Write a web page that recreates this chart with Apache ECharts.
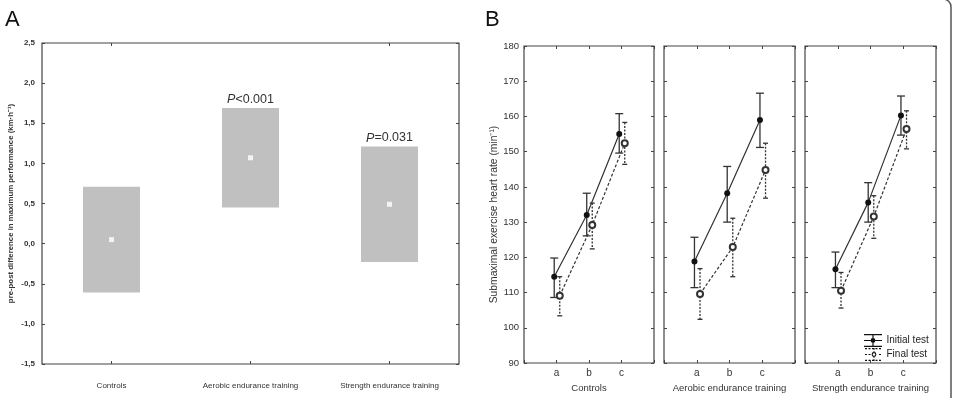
<!DOCTYPE html>
<html>
<head>
<meta charset="utf-8">
<script src="https://cdn.jsdelivr.net/npm/echarts@6/dist/echarts.min.js"></script>
<style>html,body{margin:0;background:#fff}#chart{width:953px;height:398px}</style>
</head>
<body>
<div id="chart"></div>
<script>
// panel A: pre-post difference, mean with 95% CI box
const groupsA = ['Controls', 'Aerobic endurance training', 'Strength endurance training'];
const meanA = [0.05, 1.07, 0.49];
const lowA = [-0.61, 0.45, -0.23];
const highA = [0.71, 1.69, 1.21];
const pLabels = ['', 'P<0.001', 'P=0.031'];

// panel B: heart rate at stages a, b, c
const stages = ['a', 'b', 'c'];
const groupsB = ['Controls', 'Aerobic endurance training', 'Strength endurance training'];
const initMean = [[114.5, 132.0, 155.0], [118.8, 138.2, 159.0], [116.6, 135.6, 160.3]];
const initLow = [[108.6, 126.1, 149.6], [111.4, 130.0, 151.2], [111.4, 130.0, 154.7]];
const initHigh = [[119.8, 138.2, 160.8], [125.7, 145.8, 166.6], [121.5, 141.2, 165.8]];
const finalMean = [[109.1, 129.2, 152.4], [109.6, 122.9, 144.8], [110.5, 131.6, 156.4]];
const finalLow = [[103.4, 122.4, 146.4], [102.4, 114.5, 136.8], [105.6, 125.4, 150.8]];
const finalHigh = [[114.5, 135.4, 158.3], [116.8, 131.1, 152.4], [115.7, 137.5, 161.6]];

const FONT = '"Liberation Sans", Arial, sans-serif';
const INK = '#333';
const initOff = -0.07, finalOff = 0.1;

const chart = echarts.init(document.getElementById('chart'));

const grids = [
  { left: 42, top: 43, width: 417, height: 321 },
  { left: 524, top: 46, width: 130, height: 317 },
  { left: 664, top: 46, width: 131, height: 317 },
  { left: 805, top: 46, width: 131, height: 317 }
].map(g => Object.assign(g, { show: true, borderColor: '#444', borderWidth: 1.2, backgroundColor: '#fff' }));

const tick = { show: true, inside: true, length: 3, lineStyle: { color: '#444' } };
const noLine = { show: false, onZero: false };
const xAxes = [], yAxes = [];

// panel A axes
xAxes.push({
  gridIndex: 0, type: 'category', data: groupsA, position: 'bottom',
  axisLine: noLine, axisTick: Object.assign({ alignWithLabel: true }, tick),
  axisLabel: { margin: 18, fontSize: 8, color: INK, fontFamily: FONT }
});
xAxes.push({
  gridIndex: 0, type: 'category', data: groupsA, position: 'top',
  axisLine: noLine, axisTick: Object.assign({ alignWithLabel: true }, tick), axisLabel: { show: false }
});
yAxes.push({
  gridIndex: 0, type: 'value', min: -1.5, max: 2.5, interval: 0.5, position: 'left',
  name: 'pre-post difference in maximum performance (km·h⁻¹)', nameLocation: 'middle', nameGap: 27,
  nameTextStyle: { fontSize: 7.8, fontWeight: 'bold', color: INK, fontFamily: FONT },
  axisLine: noLine, axisTick: tick, splitLine: { show: false },
  axisLabel: { margin: 7, fontSize: 8, fontWeight: 'bold', color: INK, fontFamily: FONT,
    formatter: v => v.toFixed(1).replace('.', ',') }
});
yAxes.push({
  gridIndex: 0, type: 'value', min: -1.5, max: 2.5, interval: 0.5, position: 'right',
  axisLine: noLine, axisTick: tick, splitLine: { show: false }, axisLabel: { show: false }
});

// panel B axes
groupsB.forEach((g, k) => {
  const gi = k + 1;
  xAxes.push({
    gridIndex: gi, type: 'value', min: 0, max: 4, interval: 1, position: 'bottom',
    name: g, nameLocation: 'middle', nameGap: 20,
    nameTextStyle: { fontSize: 9.5, color: INK, fontFamily: FONT },
    axisLine: noLine, axisTick: tick, splitLine: { show: false },
    axisLabel: { margin: 5, fontSize: 10, color: INK, fontFamily: FONT,
      formatter: v => stages[v - 1] || '' }
  });
  xAxes.push({
    gridIndex: gi, type: 'value', min: 0, max: 4, interval: 1, position: 'top',
    axisLine: noLine, axisTick: tick, splitLine: { show: false }, axisLabel: { show: false }
  });
  yAxes.push({
    gridIndex: gi, type: 'value', min: 90, max: 180, interval: 10, position: 'left',
    name: k === 0 ? 'Submaximal exercise heart rate (min⁻¹)' : '', nameLocation: 'middle', nameGap: 25,
    nameTextStyle: { fontSize: 10.3, color: INK, fontFamily: FONT, padding: [0, 20, 0, 0] },
    axisLine: noLine, axisTick: tick, splitLine: { show: false },
    axisLabel: { show: k === 0, margin: 5, fontSize: 9.5, color: INK, fontFamily: FONT }
  });
  yAxes.push({
    gridIndex: gi, type: 'value', min: 90, max: 180, interval: 10, position: 'right',
    axisLine: noLine, axisTick: tick, splitLine: { show: false }, axisLabel: { show: false }
  });
});

const series = [];

// panel A grey boxes + P labels
series.push({
  type: 'custom', xAxisIndex: 0, yAxisIndex: 0,
  encode: { x: 0, y: [1, 2] },
  data: groupsA.map((g, i) => [i, lowA[i], highA[i]]),
  renderItem: (params, api) => {
    const i = api.value(0);
    const top = api.coord([i, api.value(2)]);
    const bot = api.coord([i, api.value(1)]);
    const w = api.size([1, 0])[0] * 0.41;
    const children = [{
      type: 'rect',
      shape: { x: top[0] - w / 2, y: top[1], width: w, height: bot[1] - top[1] },
      style: { fill: '#c0c0c0' }
    }];
    const p = pLabels[i];
    if (p) {
      children.push({
        type: 'text', x: top[0], y: top[1] - 2,
        style: {
          text: '{i|P}{n|' + p.slice(1) + '}', align: 'center', verticalAlign: 'bottom',
          rich: {
            i: { fontStyle: 'italic', fontSize: 12.5, fontFamily: FONT, fill: INK },
            n: { fontSize: 12.5, fontFamily: FONT, fill: INK }
          }
        }
      });
    }
    return { type: 'group', children };
  }
});
series.push({
  type: 'scatter', xAxisIndex: 0, yAxisIndex: 0, data: meanA.map((v, i) => [i, v]),
  symbol: 'rect', symbolSize: 5, itemStyle: { color: '#fff' }, z: 5
});

// error bar renderer
function errBars(half, dash) {
  return (params, api) => {
    const x = api.value(0);
    const hi = api.coord([x, api.value(2)]);
    const lo = api.coord([x, api.value(1)]);
    const st = { stroke: INK, lineWidth: 1.3, lineDash: dash };
    const cap = { stroke: INK, lineWidth: 1.3 };
    return {
      type: 'group', children: [
        { type: 'line', shape: { x1: hi[0], y1: hi[1], x2: lo[0], y2: lo[1] }, style: st },
        { type: 'line', shape: { x1: hi[0] - half, y1: hi[1], x2: hi[0] + half, y2: hi[1] }, style: cap },
        { type: 'line', shape: { x1: lo[0] - half, y1: lo[1], x2: lo[0] + half, y2: lo[1] }, style: cap }
      ]
    };
  };
}

groupsB.forEach((g, k) => {
  const xi = 2 + 2 * k, yi = 2 + 2 * k;
  series.push({
    type: 'custom', xAxisIndex: xi, yAxisIndex: yi, encode: { x: 0, y: [1, 2] },
    data: stages.map((s, j) => [j + 1 + finalOff, finalLow[k][j], finalHigh[k][j]]),
    renderItem: errBars(2.5, [2, 1.5]), z: 2
  });
  series.push({
    type: 'custom', xAxisIndex: xi, yAxisIndex: yi, encode: { x: 0, y: [1, 2] },
    data: stages.map((s, j) => [j + 1 + initOff, initLow[k][j], initHigh[k][j]]),
    renderItem: errBars(4, null), z: 2
  });
  series.push({
    name: 'Final test', type: 'line', xAxisIndex: xi, yAxisIndex: yi,
    data: stages.map((s, j) => [j + 1 + finalOff, finalMean[k][j]]),
    symbol: 'emptyCircle', symbolSize: 6,
    lineStyle: { color: INK, width: 1.2, type: [3, 2] },
    itemStyle: { color: INK, borderWidth: 1 }, z: 3
  });
  series.push({
    name: 'Initial test', type: 'line', xAxisIndex: xi, yAxisIndex: yi,
    data: stages.map((s, j) => [j + 1 + initOff, initMean[k][j]]),
    symbol: 'circle', symbolSize: 6,
    lineStyle: { color: INK, width: 1.2 },
    itemStyle: { color: '#111' }, z: 4
  });
});

// legend glyphs: error-bar style icons
const dashes = (y, h, skip) => [0, 3.5, 7, 10.5, 14]
  .filter(x => !(skip && x + 2 > 6.4 && x < 11.6))
  .map(x => `M${x},${y}H${x + 2}V${y + h}H${x}Z`).join(' ');
const initIcon = 'path://M0,0H18V1.2H0Z M0,5.9H18V7.1H0Z M0,11.8H18V13H0Z M8.4,0H9.6V13H8.4Z ' +
  'M6.6,6.5A2.4,2.4 0 1 1 11.4,6.5A2.4,2.4 0 1 1 6.6,6.5Z';
const finalIcon = 'path://' + dashes(0, 1.2) + ' ' + dashes(5.9, 1.2, true) + ' ' + dashes(11.8, 1.2) +
  ' M8.4,0H9.6V1.8H8.4Z M8.4,3H9.6V3.8H8.4Z M8.4,9.2H9.6V10H8.4Z M8.4,11.2H9.6V13H8.4Z' +
  ' M6.6,6.5A2.4,2.4 0 1 1 11.4,6.5A2.4,2.4 0 1 1 6.6,6.5Z M7.7,6.5A1.3,1.3 0 1 0 10.3,6.5A1.3,1.3 0 1 0 7.7,6.5Z';

chart.setOption({
  animation: false,
  backgroundColor: '#fff',
  grid: grids,
  xAxis: xAxes,
  yAxis: yAxes,
  legend: {
    data: [{ name: 'Initial test', icon: initIcon }, { name: 'Final test', icon: finalIcon }],
    orient: 'vertical', left: 862, top: 332, padding: 2,
    itemGap: 1, itemWidth: 19, itemHeight: 13, itemStyle: { color: '#111' },
    textStyle: { fontSize: 10, color: '#222', fontFamily: FONT, padding: [0, 0, 0, -1] }
  },
  graphic: [
    { type: 'text', left: 5, top: 9, style: { text: 'A', fontSize: 22, fontFamily: FONT, fill: '#111' } },
    { type: 'text', left: 485, top: 9, style: { text: 'B', fontSize: 22, fontFamily: FONT, fill: '#111' } },
    { type: 'rect', shape: { x: -20, y: -1, width: 971, height: 420, r: 8 },
      style: { fill: 'none', stroke: '#555', lineWidth: 1.5 }, silent: true }
  ],
  series
});
</script>
</body>
</html>
